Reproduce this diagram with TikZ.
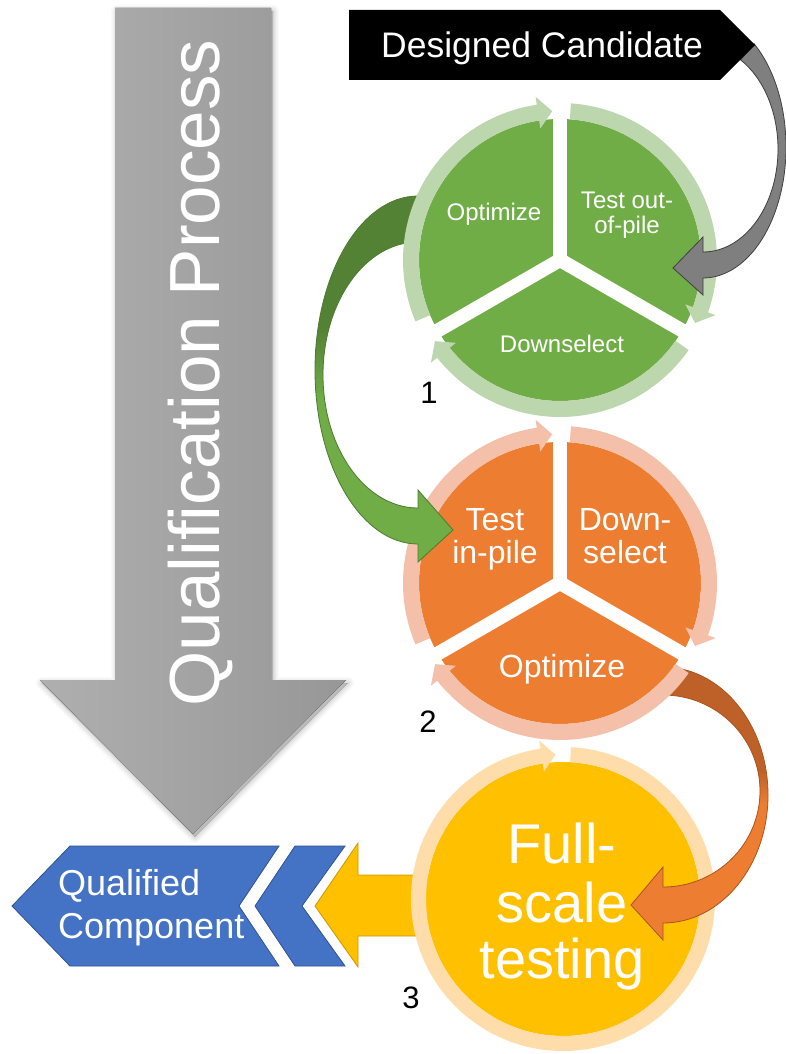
\documentclass[tikz,border=0pt]{standalone}
\usepackage{fontspec}
\setmainfont{Liberation Sans}
\usetikzlibrary{calc}

\definecolor{grnFill}{HTML}{70AD47}
\definecolor{grnRing}{HTML}{BCD6AD}
\definecolor{grnDark}{HTML}{548235}
\definecolor{grnEdge}{HTML}{4E7A30}
\definecolor{orgFill}{HTML}{ED7D31}
\definecolor{orgRing}{HTML}{F4C0A9}
\definecolor{orgDark}{HTML}{BE6128}
\definecolor{orgEdge}{HTML}{A9551F}
\definecolor{yelFill}{HTML}{FFC000}
\definecolor{yelRing}{HTML}{FFDDAB}
\definecolor{yelEdge}{HTML}{C99700}
\definecolor{bluFill}{HTML}{4472C4}
\definecolor{bluEdge}{HTML}{2F528F}
\definecolor{grayArr}{HTML}{7F7F7F}
\definecolor{grayEdge}{HTML}{404040}
\definecolor{bigL}{HTML}{AFAFAF}
\definecolor{bigR}{HTML}{979797}

% two-tone fills of the curved connectors (dark back half on top)
\pgfdeclareverticalshading{greenarr}{100bp}{color(0bp)=(grnFill); color(47bp)=(grnFill); color(57bp)=(grnDark); color(100bp)=(grnDark)}
\pgfdeclareverticalshading{orangearr}{100bp}{color(0bp)=(orgFill); color(50bp)=(orgFill); color(56bp)=(orgDark); color(100bp)=(orgDark)}

% ring segment with an arrow head: centre, inner r, outer r, start angle, tip angle, colour
\newcommand{\ringarrow}[6]{%
  \pgfmathsetmacro{\rgIn}{#2}%
  \pgfmathsetmacro{\rgOut}{#3}%
  \pgfmathsetmacro{\rgMid}{(#2+#3)/2}%
  \pgfmathsetmacro{\rgBase}{#5-5.5}%
  \pgfmathsetmacro{\rgWi}{#2-8}%
  \pgfmathsetmacro{\rgWo}{#3+8}%
  \fill[#6,shift={#1}] (#4:\rgIn) arc[start angle=#4,end angle=\rgBase,radius=\rgIn]
    -- (\rgBase:\rgWi) -- (#5:\rgMid) -- (\rgBase:\rgWo) -- (\rgBase:\rgOut)
    arc[start angle=\rgBase,end angle=#4,radius=\rgOut] -- cycle;
}

% outline of the big downward arrow
\newcommand{\bigarrowpath}{(115,8) -- (271,8) -- (271,680) -- (346,680) -- (193,834) -- (40,680) -- (115,680) -- cycle}

\tikzset{
  lbl/.style={inner sep=0pt, text=white, anchor=base},
  num/.style={inner sep=0pt, text=black, anchor=base, font=\fontsize{31}{31}\selectfont},
  gtxt/.style={lbl, font=\fontsize{24}{26}\selectfont},
  otxt/.style={lbl, font=\fontsize{32}{34}\selectfont},
  ytxt/.style={lbl, font=\fontsize{56}{58}\selectfont},
  gap/.style={white, line width=14pt},
}

\begin{document}
\begin{tikzpicture}[x=1pt,y=-1pt]
\useasboundingbox (0,0) rectangle (785,1054);
\fill[white] (0,0) rectangle (785,1054);

% soft shadow under the big arrow
\begin{scope}[shift={(2,3)}]
  \foreach \w/\op in {12/0.025, 9/0.03, 6/0.035, 3/0.04, 0.5/0.05}
    \filldraw[black, opacity=\op, line width=\w pt, line join=round] \bigarrowpath;
\end{scope}
% big downward process arrow
\fill[left color=bigL, right color=bigR] \bigarrowpath;
\node[lbl, rotate=90, font=\fontsize{71}{71}\selectfont] (qp) at (219,373) {Qualification Process};

% output chevrons
\filldraw[fill=bluFill, draw=bluEdge, line width=0.8pt]
  (12,906) -- (70,846) -- (279,846) -- (239,906) -- (279,966) -- (70,966) -- cycle;
\filldraw[fill=bluFill, draw=bluEdge, line width=0.8pt]
  (295,846) -- (345,846) -- (302,906) -- (345,966) -- (295,966) -- (255,906) -- cycle;
\node[lbl, anchor=base west, font=\fontsize{36}{43}\selectfont] (qc1) at (58,895) {Qualified};
\node[lbl, anchor=base west, font=\fontsize{36}{43}\selectfont] (qc2) at (58,938) {Component};

% block arrow from stage 3 to the output
\filldraw[fill=yelFill, draw=yelEdge, line width=0.8pt]
  (440,875) -- (358,875) -- (358,843) -- (315,906) -- (358,967) -- (358,936) -- (440,936) -- cycle;

% stage 3
\coordinate (c3) at (563,899);
\fill[yelFill] (c3) circle (137);
\ringarrow{(c3)}{137}{152}{273}{627}{yelRing}
\node[ytxt] (y1) at (562,863) {Full-};
\node[ytxt] (y2) at (562,922) {scale};
\node[ytxt] (y3) at (562,978) {testing};
\node[num] (n3) at (411,1008) {3};

% connector stage 2 -> stage 3
\shadedraw[shading=orangearr, draw=orgEdge, line width=0.8pt]
  (663,667) arc[start angle=-90, end angle=90, x radius=105, y radius=128]
  -- (663,940) -- (631,905) -- (663,867) -- (663,887)
  arc[start angle=90, end angle=-90, x radius=97, y radius=96] -- cycle;

% stage 2
\coordinate (c2) at (560,583);
\fill[orgFill] (c2) circle (141);
\draw[gap] (c2) -- ++(270:160);
\draw[gap] (c2) -- ++(30:160);
\draw[gap] (c2) -- ++(150:160);
\ringarrow{(c2)}{141}{157}{157}{267}{orgRing}
\ringarrow{(c2)}{141}{157}{274}{385}{orgRing}
\ringarrow{(c2)}{141}{157}{35}{147}{orgRing}
\node[otxt] (o1) at (495,530) {Test};
\node[otxt] (o2) at (495,563) {in-pile};
\node[otxt] (o3) at (625,530) {Down-};
\node[otxt] (o4) at (625,563) {select};
\node[otxt] (o5) at (562,677) {Optimize};
\node[num] (n2) at (428,732) {2};

% connector stage 1 -> stage 2
\shadedraw[shading=greenarr, draw=grnEdge, line width=0.8pt]
  (418,196) arc[start angle=270, end angle=90, x radius=103, y radius=174]
  -- (418,562) -- (453,530) -- (418,490) -- (418,508)
  arc[start angle=90, end angle=270, x radius=95, y radius=133] -- cycle;

% stage 1
\coordinate (c1) at (560,260);
\fill[grnFill] (c1) circle (141);
\draw[gap] (c1) -- ++(270:160);
\draw[gap] (c1) -- ++(30:160);
\draw[gap] (c1) -- ++(150:160);
\ringarrow{(c1)}{141}{157}{157}{267}{grnRing}
\ringarrow{(c1)}{141}{157}{274}{385}{grnRing}
\ringarrow{(c1)}{141}{157}{35}{147}{grnRing}
\node[gtxt] (g1) at (494,220) {Optimize};
\node[gtxt] (g2) at (627,208) {Test out-};
\node[gtxt] (g3) at (627,233) {of-pile};
\node[gtxt] (g4) at (562,352) {Downselect};
\node[num] (n1) at (429,403) {1};

% connector candidate -> stage 1
\filldraw[fill=grayArr, draw=grayEdge, line width=0.8pt]
  ([shift={(703,147)}]-52:83 and 131) arc[start angle=-52, end angle=90, x radius=83, y radius=131]
  -- (703,295) -- (673,268) -- (703,237) -- (703,252)
  arc[start angle=90, end angle=-60, x radius=75, y radius=103] -- cycle;

% candidate banner
\fill[black] (349,10) -- (720,10) -- (755,45) -- (720,80) -- (349,80) -- cycle;
\node[lbl, font=\fontsize{35.5}{36}\selectfont] (dc) at (542,58) {Designed Candidate};
\end{tikzpicture}
\end{document}
